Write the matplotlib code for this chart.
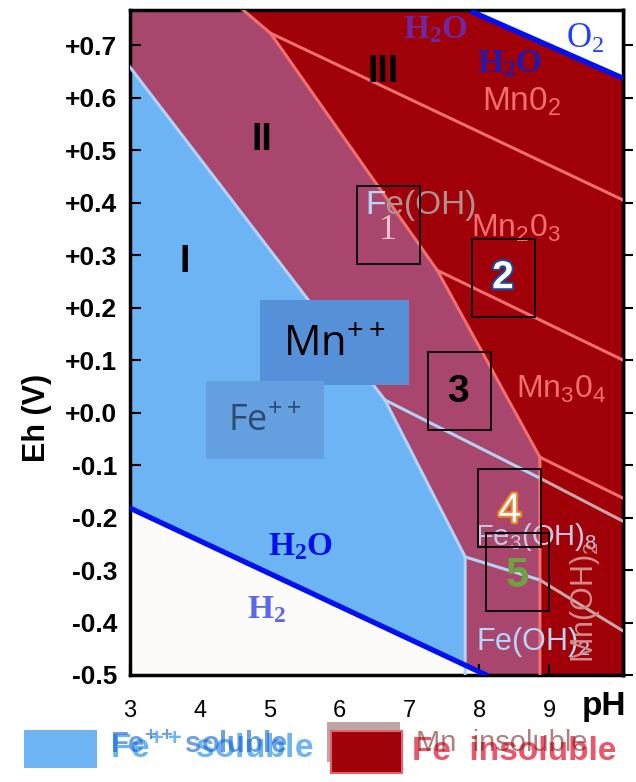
import matplotlib.pyplot as plt
import matplotlib.patheffects as pe
from matplotlib import font_manager
from matplotlib.patches import Polygon, Rectangle

installed = {f.name for f in font_manager.fontManager.ttflist}
NARROW = 'Liberation Sans Narrow' if 'Liberation Sans Narrow' in installed else 'Liberation Sans'
plt.rcParams['font.family'] = ['Liberation Sans', 'DejaVu Sans']
plt.rcParams['mathtext.default'] = 'regular'

# boundaries (pH, Eh in volts)
soluble_ph = [3.0, 6.65, 7.80, 7.80]
soluble_eh = [0.658, 0.024, -0.275, -0.5]
insoluble_ph = [4.62, 5.01, 7.40, 8.87, 8.87]
insoluble_eh = [0.767, 0.723, 0.271, -0.085, -0.5]
h2o_h2_ph = [3.0, 8.1]
h2o_h2_eh = [-0.182, -0.5]
o2_h2o_ph = [7.91, 10.06]
o2_h2o_eh = [0.763, 0.637]

# Mn oxide boundaries
mno2_ph = [5.01, 10.06]
mno2_eh = [0.723, 0.405]
mn2o3_ph = [7.40, 10.06]
mn2o3_eh = [0.271, 0.10]
mn3o4_ph = [8.87, 10.06]
mn3o4_eh = [-0.085, -0.163]

# Fe hydroxide boundaries (light part, then greyed part inside the red field)
fe3oh8_ph = [6.65, 8.87, 10.06]
fe3oh8_eh = [0.024, -0.125, -0.207]
feoh2_ph = [7.80, 8.87, 10.06]
feoh2_eh = [-0.275, -0.319, -0.416]

yticks = [0.7, 0.6, 0.5, 0.4, 0.3, 0.2, 0.1, 0.0, -0.1, -0.2, -0.3, -0.4, -0.5]
ytick_labels = ['+0.7', '+0.6', '+0.5', '+0.4', '+0.3', '+0.2', '+0.1', '+0.0',
                '-0.1', '-0.2', '-0.3', '-0.4', '-0.5']
xticks = [3, 4, 5, 6, 7, 8, 9]

BLUE = '#6cb4f4'
MAUVE = '#a8466e'
DARKRED = '#a00008'
WHITE = '#fdfafa'
LIGHTLINE = '#b4d2f6'
SALMON = '#f07070'
GREYLINE = '#c8a8a8'

fig = plt.figure(figsize=(6.36, 7.82), dpi=100)
fig.patch.set_facecolor('white')
ax = fig.add_axes([130/636, 1-675/782, 493/636, 665/782])
xmin, xmax, ymin, ymax = 3.0, 10.06, -0.5, 0.767
ax.set_xlim(xmin, xmax)
ax.set_ylim(ymin, ymax)
ax.set_facecolor(MAUVE)

blue_poly = list(zip(soluble_ph, soluble_eh)) + [(xmin, ymin)]
ax.add_patch(Polygon(blue_poly, closed=True, fc=BLUE, ec='none', zorder=1))
red_poly = list(zip(insoluble_ph, insoluble_eh)) + [(xmax, ymin), (xmax, ymax)]
ax.add_patch(Polygon(red_poly, closed=True, fc=DARKRED, ec='none', zorder=1))
low_poly = list(zip(h2o_h2_ph, h2o_h2_eh)) + [(xmin, ymin)]
ax.add_patch(Polygon(low_poly, closed=True, fc=WHITE, ec='none', zorder=2))
high_poly = list(zip(o2_h2o_ph, o2_h2o_eh)) + [(xmax, ymax)]
ax.add_patch(Polygon(high_poly, closed=True, fc='white', ec='none', zorder=2))

ax.plot(soluble_ph, soluble_eh, color=LIGHTLINE, lw=2.2, zorder=3)
ax.plot(insoluble_ph, insoluble_eh, color=SALMON, lw=2.2, zorder=3)
ax.plot(mno2_ph, mno2_eh, color=SALMON, lw=2.2, zorder=3)
ax.plot(mn2o3_ph, mn2o3_eh, color=SALMON, lw=2.2, zorder=3)
ax.plot(mn3o4_ph, mn3o4_eh, color=SALMON, lw=2.2, zorder=3)
ax.plot(fe3oh8_ph[:2], fe3oh8_eh[:2], color=LIGHTLINE, lw=2.2, zorder=3)
ax.plot(fe3oh8_ph[1:], fe3oh8_eh[1:], color=GREYLINE, lw=2.2, zorder=3)
ax.plot(feoh2_ph[:2], feoh2_eh[:2], color=LIGHTLINE, lw=2.2, zorder=3)
ax.plot(feoh2_ph[1:], feoh2_eh[1:], color=GREYLINE, lw=2.2, zorder=3)
ax.plot(h2o_h2_ph, h2o_h2_eh, color='#0010f0', lw=3.8, zorder=4)
ax.plot(o2_h2o_ph, o2_h2o_eh, color='#0010f0', lw=3.8, zorder=4)

# region numerals
for s, x, y in [('I', 3.79, 0.287), ('II', 4.89, 0.519), ('III', 6.62, 0.649)]:
    ax.text(x, y, s, fontsize=27, fontweight='bold', family=[NARROW, 'DejaVu Sans'],
            color='black', ha='center', va='center', zorder=6)

serif = ['Liberation Serif', 'DejaVu Serif']
ax.text(7.37, 0.730, 'H$_2$O', fontsize=24, fontweight='bold', family=serif,
        color='#7028a0', ha='center', va='center', zorder=6)
ax.text(8.44, 0.664, 'H$_2$O', fontsize=24, fontweight='bold', family=serif,
        color='#2418b0', ha='center', va='center', zorder=6)
ax.text(9.52, 0.712, 'O$_2$', fontsize=25, family=serif,
        color='#2040ff', ha='center', va='center', zorder=6)
ax.text(5.44, -0.255, 'H$_2$O', fontsize=24, fontweight='bold', family=serif,
        color='#0010e8', ha='center', va='center', zorder=6)
ax.text(4.95, -0.376, 'H$_2$', fontsize=24, fontweight='bold', family=serif,
        color='#5868f0', ha='center', va='center', zorder=6)

ax.text(8.60, 0.592, 'Mn0$_2$', fontsize=24, color=SALMON,
        ha='center', va='center', zorder=6)
ax.text(8.53, 0.350, 'Mn$_2$0$_3$', fontsize=23, color=SALMON,
        ha='center', va='center', zorder=6)
ax.text(9.17, 0.045, 'Mn$_3$0$_4$', fontsize=23, color=SALMON,
        ha='center', va='center', zorder=6)
ax.text(6.37, 0.395, 'Fe(OH)', fontsize=24, color='#b09090',
        ha='left', va='center', zorder=6)
ax.text(6.37, 0.395, 'F', fontsize=24, color='#b8d4f8',
        ha='left', va='center', zorder=6)
ax.text(8.82, -0.238, 'Fe$_3$(OH)$_8$', fontsize=21, color='#c8c8e0',
        ha='center', va='center', zorder=6)
ax.text(8.78, -0.437, 'Fe(OH)$_2$', fontsize=22, color='#b8d4f8',
        ha='center', va='center', zorder=6)
ax.text(9.52, -0.361, 'Mn(OH)$_2$', fontsize=22, color='#d08c8c', rotation=90,
        ha='center', va='center', zorder=6)

# numbered boxes
boxes = [(6.25, 0.283), (7.90, 0.182), (7.27, -0.033), (7.99, -0.256), (8.10, -0.378)]
for bx, by in boxes:
    ax.add_patch(Rectangle((bx, by), 0.90, 0.148, fill=False, ec='black', lw=1.3, zorder=7))
ax.text(6.70, 0.346, '1', fontsize=26, family=serif, color='#f0c4c4',
        ha='center', va='center', zorder=8)
ax.text(8.34, 0.256, '2', fontsize=28, fontweight='bold', color='white',
        ha='center', va='center', zorder=8,
        path_effects=[pe.withStroke(linewidth=3, foreground='#1848a0')])
ax.text(7.70, 0.039, '3', fontsize=28, fontweight='bold', color='black',
        ha='center', va='center', zorder=8)
ax.text(8.44, -0.188, '4', fontsize=30, color='white',
        ha='center', va='center', zorder=8,
        path_effects=[pe.withStroke(linewidth=3, foreground='#f08020')])
ax.text(8.54, -0.312, '5', fontsize=30, fontweight='bold', color='#70a040',
        ha='center', va='center', zorder=8)

# ion labels
ax.add_patch(Rectangle((4.862, 0.052), 2.135, 0.162, fc='#5690d8', ec='none', zorder=7))
ax.text(5.93, 0.128, 'Mn$^{++}$', fontsize=30, family=['Open Sans', 'DejaVu Sans'],
        color='black', ha='center', va='center', zorder=8)
ax.add_patch(Rectangle((4.089, -0.089), 1.69, 0.149, fc='#64a0e0', ec='none', zorder=7))
ax.text(4.93, -0.018, 'Fe$^{++}$', fontsize=26, family=['Open Sans', 'DejaVu Sans'],
        color='#2c4a72', ha='center', va='center', zorder=8)

ax.set_yticks(yticks)
ax.set_yticklabels(ytick_labels, fontsize=19, fontweight='bold', family=[NARROW, 'DejaVu Sans'])
ax.set_xticks(xticks)
ax.set_xticklabels([str(t) for t in xticks], fontsize=17, family=[NARROW, 'DejaVu Sans'])
ax.tick_params(axis='both', direction='in', length=8, width=1.5)
ax.tick_params(axis='y', pad=9)
ax.tick_params(axis='x', pad=18)
right = ax.secondary_yaxis('right')
right.set_yticks(yticks)
right.tick_params(direction='out', length=7, width=1.5, labelright=False)
right.spines['right'].set_linewidth(2.5)
for sp in ax.spines.values():
    sp.set_linewidth(2.5)
fig.text(37/636, 1-418/782, 'Eh (V)', fontsize=22, fontweight='bold', rotation=90,
         family=[NARROW, 'DejaVu Sans'], ha='center', va='center')
fig.text(604/636, 1-706/782, 'pH', fontsize=24, fontweight='bold',
         ha='center', va='center')

# legend
fig.patches.append(Rectangle((24/636, 1-768/782), 73/636, 38/782, fc=BLUE, ec='none',
                             transform=fig.transFigure, figure=fig))
fig.text(110/636, 1-749/782, 'Fe$^{++}$ soluble', fontsize=24, fontweight='bold',
         color='#6cb4f4', ha='left', va='center')
fig.text(110/636, 1-745/782, 'Fe$^{++}$ soluble', fontsize=21, fontweight='bold',
         color='#1060d0', ha='left', va='center', alpha=0.6)
fig.patches.append(Rectangle((327/636, 1-762/782), 73/636, 40/782, fc='#a08080', ec='none',
                             transform=fig.transFigure, figure=fig, alpha=0.7))
fig.patches.append(Rectangle((331/636, 1-773/782), 71/636, 42/782, fc=DARKRED, ec='#e86070',
                             lw=1.5, transform=fig.transFigure, figure=fig))
fig.text(412/636, 1-751/782, 'Fe  insoluble', fontsize=24, fontweight='bold',
         color='#e85868', ha='left', va='center')
fig.text(416/636, 1-743/782, 'Mn  insoluble', fontsize=21,
         color='#701818', ha='left', va='center', alpha=0.55)

fig.savefig('out.png', dpi=100)
